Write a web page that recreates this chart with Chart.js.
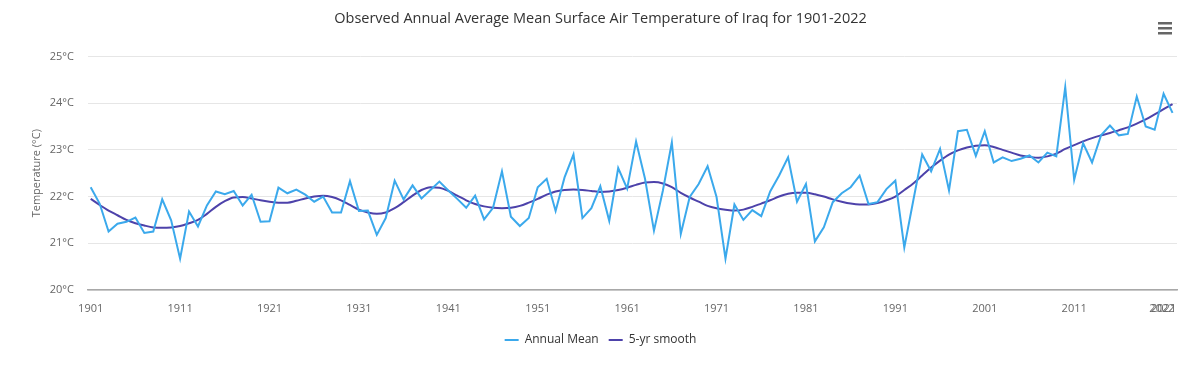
<!DOCTYPE html>
<html>
<head>
<meta charset="utf-8">
<script src="https://cdn.jsdelivr.net/npm/chart.js@4"></script>
<style>
  html, body { margin: 0; padding: 0; background: #ffffff; }
  #wrap { width: 1200px; height: 369px; position: relative; }
</style>
</head>
<body>
<div id="wrap"><canvas id="c" width="1200" height="369"></canvas></div>
<script>
const titleText = 'Observed Annual Average Mean Surface Air Temperature of Iraq for 1901-2022';
const yAxisTitle = 'Temperature (°C)';
const seriesNames = ['Annual Mean', '5-yr smooth'];

const years = [
  1901,1902,1903,1904,1905,1906,1907,1908,1909,1910,
  1911,1912,1913,1914,1915,1916,1917,1918,1919,1920,
  1921,1922,1923,1924,1925,1926,1927,1928,1929,1930,
  1931,1932,1933,1934,1935,1936,1937,1938,1939,1940,
  1941,1942,1943,1944,1945,1946,1947,1948,1949,1950,
  1951,1952,1953,1954,1955,1956,1957,1958,1959,1960,
  1961,1962,1963,1964,1965,1966,1967,1968,1969,1970,
  1971,1972,1973,1974,1975,1976,1977,1978,1979,1980,
  1981,1982,1983,1984,1985,1986,1987,1988,1989,1990,
  1991,1992,1993,1994,1995,1996,1997,1998,1999,2000,
  2001,2002,2003,2004,2005,2006,2007,2008,2009,2010,
  2011,2012,2013,2014,2015,2016,2017,2018,2019,2020,
  2021,2022
];

const annualMean = [
  22.20,21.85,21.25,21.42,21.46,21.55,21.22,21.25,21.94,21.49,
  20.67,21.68,21.36,21.81,22.11,22.05,22.12,21.81,22.04,21.46,
  21.47,22.19,22.07,22.15,22.04,21.89,22.00,21.66,21.66,22.33,
  21.69,21.70,21.18,21.54,22.34,21.94,22.24,21.96,22.14,22.32,
  22.13,21.95,21.76,22.02,21.51,21.76,22.54,21.57,21.37,21.54,
  22.20,22.38,21.69,22.41,22.90,21.54,21.75,22.22,21.48,22.61,
  22.17,23.18,22.38,21.27,22.13,23.16,21.20,21.99,22.27,22.65,
  21.99,20.67,21.83,21.50,21.71,21.58,22.11,22.45,22.84,21.89,
  22.27,21.04,21.34,21.88,22.07,22.20,22.45,21.84,21.88,22.16,
  22.34,20.91,21.91,22.90,22.54,23.02,22.13,23.40,23.43,22.87,
  23.40,22.73,22.84,22.76,22.81,22.88,22.73,22.94,22.86,24.34,
  22.36,23.14,22.73,23.31,23.52,23.31,23.34,24.14,23.50,23.43,
  24.20,23.79
];

const smooth5yr = [
  21.95,21.82,21.70,21.60,21.50,21.43,21.38,21.34,21.33,21.34,
  21.37,21.43,21.50,21.63,21.78,21.90,21.98,21.99,21.96,21.92,
  21.89,21.87,21.87,21.91,21.96,22.00,22.02,21.99,21.92,21.82,
  21.72,21.66,21.63,21.66,21.75,21.88,22.02,22.14,22.20,22.19,
  22.12,22.02,21.92,21.84,21.79,21.76,21.75,21.76,21.80,21.87,
  21.95,22.04,22.11,22.14,22.15,22.14,22.12,22.10,22.11,22.14,
  22.19,22.25,22.30,22.31,22.28,22.20,22.08,21.98,21.89,21.80,
  21.75,21.72,21.70,21.72,21.78,21.85,21.92,22.00,22.06,22.08,
  22.08,22.05,22.00,21.94,21.89,21.85,21.83,21.83,21.86,21.92,
  22.00,22.14,22.28,22.45,22.62,22.77,22.90,22.99,23.05,23.09,
  23.10,23.06,23.00,22.94,22.88,22.85,22.83,22.86,22.92,23.02,
  23.10,23.18,23.25,23.31,23.36,23.42,23.48,23.56,23.65,23.76,
  23.87,23.98
];

const xTickValues = [1901,1911,1921,1931,1941,1951,1961,1971,1981,1991,2001,2011,2021,2022];
const yTickValues = [20,21,22,23,24,25];
const endTickValue = 2022;

const toPoints = (vals) => vals.map((v, i) => ({ x: years[i], y: v }));

Chart.defaults.font.family = "'Open Sans', 'Noto Sans', sans-serif";

const menuIcon = {
  id: 'menuIcon',
  afterDraw(chart) {
    const ctx = chart.ctx;
    ctx.save();
    ctx.fillStyle = '#666666';
    [22, 27, 32].forEach(y => ctx.fillRect(1158, y, 14, 2.5));
    ctx.restore();
  }
};

new Chart(document.getElementById('c'), {
  type: 'line',
  data: {
    datasets: [
      {
        label: seriesNames[0],
        data: toPoints(annualMean),
        borderColor: '#3ba9ec',
        backgroundColor: '#3ba9ec',
        borderWidth: 2,
        pointRadius: 0,
        tension: 0
      },
      {
        label: seriesNames[1],
        data: toPoints(smooth5yr),
        borderColor: '#4d42aa',
        backgroundColor: '#4d42aa',
        borderWidth: 2,
        pointRadius: 0,
        tension: 0.4,
        cubicInterpolationMode: 'monotone'
      }
    ]
  },
  options: {
    responsive: false,
    animation: false,
    layout: { padding: { left: 24, right: 23, top: 0, bottom: 13 } },
    plugins: {
      title: {
        display: true,
        text: titleText,
        color: '#333333',
        font: { size: 14.5, weight: 'normal' },
        padding: { top: 10, bottom: 29 }
      },
      legend: {
        position: 'bottom',
        labels: {
          usePointStyle: true,
          pointStyle: 'line',
          pointStyleWidth: 14,
          boxHeight: 12,
          padding: 10,
          color: '#333333',
          font: { size: 12 }
        }
      },
      tooltip: { enabled: false }
    },
    scales: {
      x: {
        type: 'linear',
        min: 1900.7,
        max: 2022.5,
        grid: { display: false, drawTicks: false },
        border: { display: true, color: '#a8a8a8', width: 1.5 },
        afterBuildTicks: (scale) => { scale.ticks = xTickValues.map(v => ({ value: v })); },
        afterFit: (scale) => { scale.height = 34; },
        afterUpdate: (scale) => {
          const orig = Object.getPrototypeOf(scale).getLabelItems;
          scale.getLabelItems = function (area) {
            const items = orig.call(this, area);
            items.forEach(it => {
              if (String(it.label) === String(endTickValue)) {
                it.options.textAlign = 'right';
                it.options.translation[0] = this.getPixelForValue(endTickValue) + 2;
              }
            });
            return items;
          };
        },
        ticks: {
          autoSkip: false,
          maxRotation: 0,
          padding: 12,
          color: '#666666',
          font: { size: 11 },
          callback: (v) => String(v)
        }
      },
      y: {
        min: 20,
        max: 25,
        afterBuildTicks: (scale) => { scale.ticks = yTickValues.map(v => ({ value: v })); },
        afterFit: (scale) => { scale.width = 64; },
        grid: { color: '#e6e6e6', drawTicks: false, lineWidth: 1 },
        border: { display: false },
        ticks: {
          padding: 14,
          color: '#666666',
          font: { size: 11 },
          callback: (v) => v + '°C'
        },
        title: {
          display: true,
          text: yAxisTitle,
          color: '#666666',
          font: { size: 11 },
          padding: { top: 6, bottom: 0 }
        }
      }
    }
  },
  plugins: [menuIcon]
});
</script>
</body>
</html>
